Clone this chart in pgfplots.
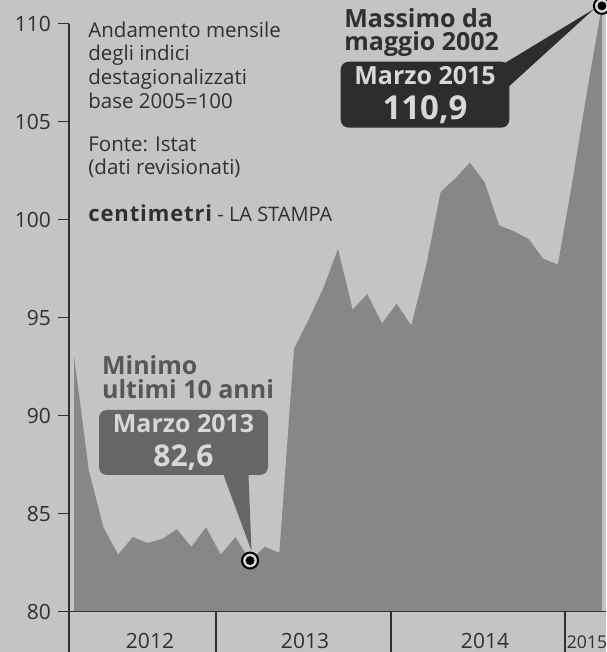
\documentclass[border=0pt]{standalone}
\usepackage{pgfplots}
\pgfplotsset{compat=1.18}
\usepackage{pgfplotstable}
\usepackage{fontspec}
\setmainfont{Open Sans}
\usetikzlibrary{backgrounds}
\definecolor{bg}{HTML}{C4C4C4}
\definecolor{area}{HTML}{878787}
\definecolor{ink}{HTML}{303030}
\definecolor{darkbox}{HTML}{2D2D2D}
\definecolor{midbox}{HTML}{666666}
\definecolor{boxtxt}{HTML}{D8D8D8}
\definecolor{midtxt}{HTML}{575757}

\pgfplotstableread{
m v
0 93.0
1 87.2
2 84.3
3 82.9
4 83.8
5 83.5
6 83.7
7 84.2
8 83.3
9 84.3
10 82.9
11 83.8
12 82.6
13 83.3
14 83.0
15 93.4
16 94.9
17 96.5
18 98.5
19 95.4
20 96.2
21 94.7
22 95.7
23 94.6
24 97.6
25 101.4
26 102.1
27 102.9
28 101.9
29 99.7
30 99.4
31 99.0
32 98.0
33 97.7
34 102.0
35 106.6
36 110.9
}\fiducia

\begin{document}
\begin{tikzpicture}[font=\fontsize{10.25pt}{11.85pt}\selectfont]
\begin{axis}[
  at={(0,0)}, anchor=south west,
  scale only axis, width=268.5pt, height=305.75pt,
  xmin=-0.35, xmax=36.28, ymin=80, ymax=111.2,
  axis line style={draw=none},
  xtick=\empty,
  ytick={80,85,...,110},
  tick align=outside, tick pos=left,
  major tick length=5.5pt,
  every tick/.style={ink, line width=0.6pt},
  /pgf/number format/assume math mode=true,
  yticklabel style={font=\fontsize{10.5pt}{12pt}\selectfont, text=ink},
]
\addplot[fill=area, draw=none] table[x=m, y=v]{\fiducia} \closedcycle;
\addplot[only marks, mark=*, mark size=4pt,
  mark options={fill=boxtxt, draw=black, line width=1pt}]
  coordinates {(12,82.6) (36,110.9)};
\addplot[only marks, mark=*, mark size=2pt,
  mark options={fill=black, draw=black}]
  coordinates {(12,82.6) (36,110.9)};
\end{axis}

\begin{scope}[x=0.5pt, y=-0.5pt, shift={(-34.5pt,305.75pt)}]
  \begin{scope}[on background layer]
    \fill[bg] (0,0) rectangle (606,652);
  \end{scope}
  % axis lines and year separators
  \draw[ink, line width=0.75pt] (69,24) -- (69,652);
  \draw[ink, line width=0.75pt] (69,611.5) -- (606,611.5);
  \foreach \sx in {216,391,565} \draw[ink, line width=0.75pt] (\sx,611.5) -- (\sx,652);
  % year labels
  \foreach \yx/\yl in {150/2012,305/2013,485/2014}
    \node[anchor=base, text=ink, inner sep=0pt, font=\fontsize{10.5pt}{12pt}\selectfont] at (\yx,648.5) {\yl};
  \node[anchor=base west, text=ink, inner sep=0pt, font=\fontsize{8.8pt}{10pt}\selectfont] at (566.5,648.5) {2015};
  % description
  \foreach \ty/\tt in {37.3/Andamento mensile, 61/degli indici, 85/destagionalizzati, 108.5/base 2005=100, 151.7/Fonte: Istat, 174.7/(dati revisionati)}
    \node[anchor=base west, text=ink, inner sep=0pt] at (88,\ty) {\tt};
  \node[anchor=base west, text=ink, inner sep=0pt] at (88,221.7)
    {{\fontsize{11pt}{12pt}\selectfont\bfseries\addfontfeatures{LetterSpace=4}centimetri}{\fontsize{10pt}{11pt}\selectfont\ - LA STAMPA}};
  % maximum callout
  \node[anchor=base west, text=ink, inner sep=0pt, font=\fontsize{12.5pt}{14pt}\selectfont\bfseries] at (344,27.3) {Massimo da};
  \node[anchor=base west, text=ink, inner sep=0pt, font=\fontsize{12.5pt}{14pt}\selectfont\bfseries] at (344,50.5) {maggio 2002};
  \fill[darkbox, rounded corners=4pt] (340.7,61.7) rectangle (509.3,127.7);
  \fill[darkbox] (505,63) -- (594,9) -- (505,90) -- cycle;
  \node[anchor=base, text=boxtxt, inner sep=0pt, font=\fontsize{12.5pt}{14pt}\selectfont\bfseries] at (425,85) {Marzo 2015};
  \node[anchor=base, text=boxtxt, inner sep=0pt, font=\fontsize{16.5pt}{18pt}\selectfont\bfseries] at (425,120) {110,9};
  % minimum callout
  \node[anchor=base west, text=midtxt, inner sep=0pt, font=\fontsize{12.5pt}{14pt}\selectfont\bfseries] at (101.7,375) {Minimo};
  \node[anchor=base west, text=midtxt, inner sep=0pt, font=\fontsize{12.5pt}{14pt}\selectfont\bfseries] at (101.7,398.3) {ultimi 10 anni};
  \fill[midbox, rounded corners=4pt] (99,410) rectangle (268,475);
  \fill[midbox] (221.7,470) -- (248.3,470) -- (251.5,551) -- cycle;
  \node[anchor=base, text=boxtxt, inner sep=0pt, font=\fontsize{12.5pt}{14pt}\selectfont\bfseries] at (183.5,433) {Marzo 2013};
  \node[anchor=base, text=boxtxt, inner sep=0pt, font=\fontsize{15pt}{17pt}\selectfont\bfseries] at (183.5,466.7) {82,6};
  \pgfresetboundingbox
  \path[use as bounding box] (0,0) rectangle (606,652);
\end{scope}
\end{tikzpicture}
\end{document}
